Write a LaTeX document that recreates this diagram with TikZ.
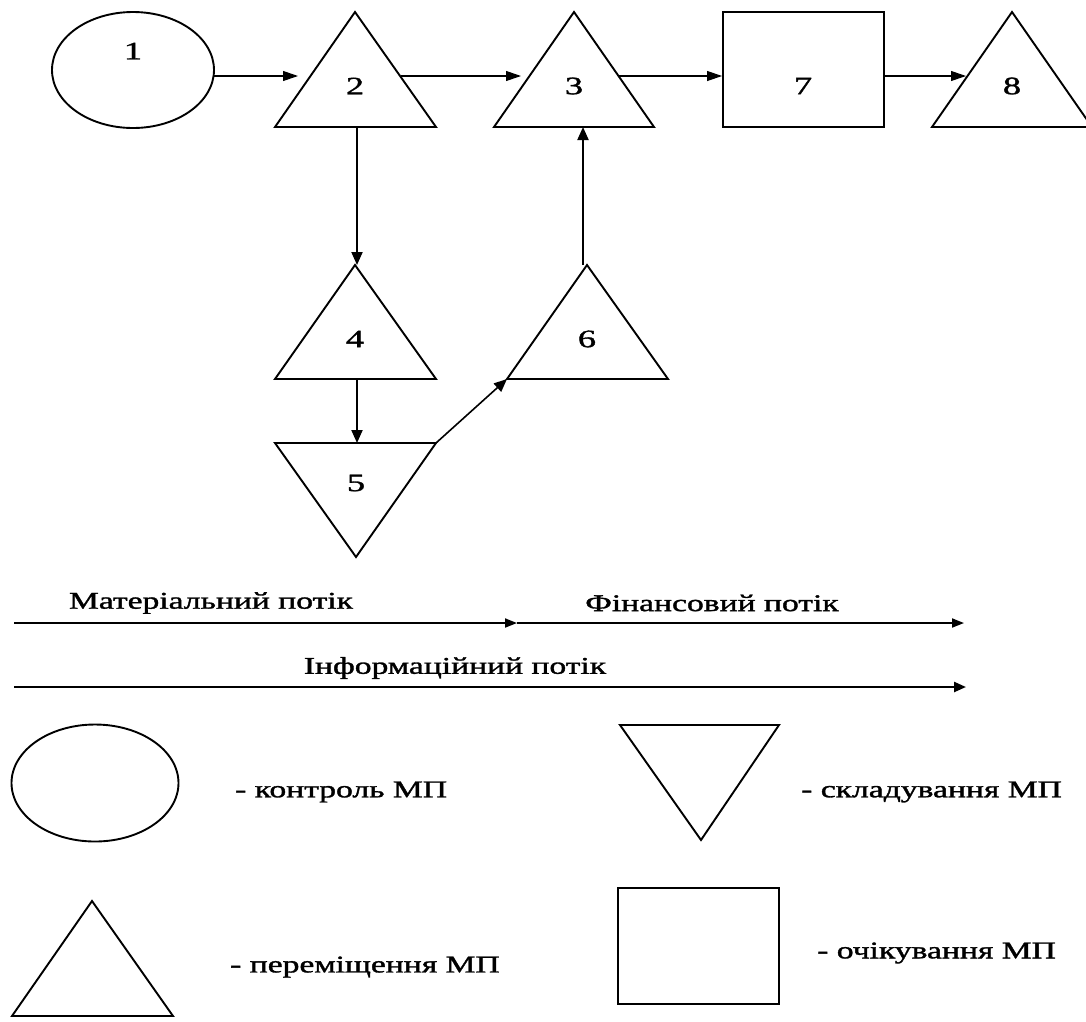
\documentclass[tikz,border=0pt]{standalone}
\usepackage{fontspec}
\usepackage{graphicx}
\setmainfont{Liberation Serif}
\newfontfamily\heavyserif[FakeBold=1.2]{Liberation Serif}
\usetikzlibrary{arrows.meta,shapes.geometric}
\newcommand{\wtxt}[1]{\scalebox{1.4}[1]{#1}}
\newcommand{\wnum}[1]{\scalebox{1.45}[1]{#1}}
\begin{document}
\begin{tikzpicture}[x=1pt,y=-1pt,
  shp/.style={line width=1.9pt, line join=miter},
  num/.style={font=\heavyserif\fontsize{25}{28}\selectfont, inner sep=0pt},
  txt/.style={font=\heavyserif\fontsize{24}{28}\selectfont, inner sep=0pt},
  thinarr/.style={line width=1.1pt, -{Triangle[length=15pt,width=10pt]}},
  thickarr/.style={line width=2pt, -{Triangle[length=13pt,width=11pt]}},
  flowarr/.style={line width=1.8pt, -{Triangle[length=12pt,width=9pt]}},
  infoarr/.style={line width=2.4pt, -{Triangle[length=12pt,width=10pt]}}]
\useasboundingbox (0,0) rectangle (1086,1021);
% ---- diagram shapes ----
\node[draw, shp, ellipse, minimum width=162pt, minimum height=116pt, inner sep=0pt] (n1) at (133,70) {};
\node[num] (l1) at (133,51) {\wnum{1}};
% triangle 2
\coordinate (t2a) at (355,12); \coordinate (t2l) at (275,127); \coordinate (t2r) at (436,127);
\draw[shp] (t2a) -- (t2l) -- (t2r) -- cycle;
\node[num] (l2) at (355,86) {\wnum{2}};
% triangle 3
\coordinate (t3a) at (574,12); \coordinate (t3l) at (494,127); \coordinate (t3r) at (654,127);
\draw[shp] (t3a) -- (t3l) -- (t3r) -- cycle;
\node[num] (l3) at (574,86) {\wnum{3}};
% box 7
\node[draw, shp, rectangle, minimum width=161pt, minimum height=115pt, inner sep=0pt] (n7) at (803.5,69.5) {};
\node[num] (l7) at (803,86) {\wnum{7}};
% triangle 8
\coordinate (t8a) at (1012,12); \coordinate (t8l) at (932,127); \coordinate (t8r) at (1092,127);
\draw[shp] (t8a) -- (t8l) -- (t8r) -- cycle;
\node[num] (l8) at (1012,86) {\wnum{8}};
% triangle 4
\coordinate (t4a) at (355,265); \coordinate (t4l) at (275,379); \coordinate (t4r) at (436,379);
\draw[shp] (t4a) -- (t4l) -- (t4r) -- cycle;
\node[num] (l4) at (355,339) {\wnum{4}};
% triangle 5 (inverted)
\coordinate (t5l) at (275,443); \coordinate (t5r) at (436,443); \coordinate (t5a) at (356,557);
\draw[shp] (t5l) -- (t5r) -- (t5a) -- cycle;
\node[num] (l5) at (356,483) {\wnum{5}};
% triangle 6
\coordinate (t6a) at (587,265); \coordinate (t6l) at (507,379); \coordinate (t6r) at (668,379);
\draw[shp] (t6a) -- (t6l) -- (t6r) -- cycle;
\node[num] (l6) at (587,339) {\wnum{6}};
% ---- connectors ----
\coordinate (c1s) at (214,76); \coordinate (c1e) at (298,76);
\draw[thinarr] (c1s) -- (c1e);
\coordinate (c2s) at (401,76); \coordinate (c2e) at (521,76);
\draw[thinarr] (c2s) -- (c2e);
\coordinate (c3s) at (619,76);
\draw[thinarr] (c3s) -- (n7.west |- c3s);
\coordinate (c4e) at (966,76);
\draw[thinarr] (n7.east |- c4e) -- (c4e);
\coordinate (v1s) at (357,127); \coordinate (v1e) at (357,265);
\draw[thickarr] (v1s) -- (v1e);
\coordinate (v2s) at (357,379); \coordinate (v2e) at (357,443);
\draw[thickarr] (v2s) -- (v2e);
\coordinate (v3s) at (583,265); \coordinate (v3e) at (583,127);
\draw[thickarr] (v3s) -- (v3e);
\draw[thickarr, line width=1.6pt] (t5r) -- (t6l);
% ---- flows ----
\coordinate (f1a) at (14,623); \coordinate (f1b) at (517,623); \coordinate (f1c) at (964,623);
\draw[flowarr] (f1a) -- (f1b);
\draw[flowarr] (f1b) -- (f1c);
\coordinate (f2a) at (14,687); \coordinate (f2b) at (966,687);
\draw[infoarr] (f2a) -- (f2b);
\node[txt] (tm) at (211,603) {\wtxt{Матеріальний потік}};
\node[txt] (tf) at (712,603) {\wtxt{Фінансовий потік}};
\node[txt] (ti) at (455,668) {\wtxt{Інформаційний потік}};
% ---- legend ----
\node[draw, shp, ellipse, minimum width=167pt, minimum height=117pt, inner sep=0pt] (le) at (95,783) {};
\node[txt, anchor=west] (lte) at (235,792) {\wtxt{- контроль МП}};
\coordinate (lia) at (620,725); \coordinate (lib) at (779,725); \coordinate (lic) at (701,840);
\draw[shp] (lia) -- (lib) -- (lic) -- cycle;
\node[txt, anchor=west] (lti) at (801,792) {\wtxt{- складування МП}};
\coordinate (lta) at (92,901); \coordinate (ltl) at (12,1016); \coordinate (ltr) at (173,1016);
\draw[shp] (lta) -- (ltl) -- (ltr) -- cycle;
\node[txt, anchor=west] (ltt) at (230,967) {\wtxt{- переміщення МП}};
\node[draw, shp, rectangle, minimum width=161pt, minimum height=116pt, inner sep=0pt] (lr) at (698.5,946) {};
\node[txt, anchor=west] (ltr2) at (817,953) {\wtxt{- очікування МП}};
\end{tikzpicture}
\end{document}
